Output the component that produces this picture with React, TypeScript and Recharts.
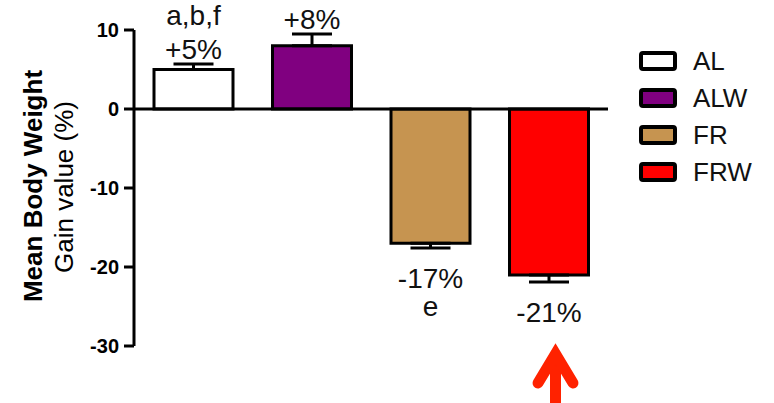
import React from 'react';
import { BarChart, Bar, Cell, XAxis, YAxis, ReferenceLine, ErrorBar, LabelList } from 'recharts';

const groups = ['AL', 'ALW', 'FR', 'FRW'];
const gain = [5, 8, -17, -21];
const sem = [0.7, 1.5, 0.6, 0.9];
const letters = ['a,b,f', '', 'e', ''];
const fills = ['#ffffff', '#800080', '#c69450', '#ff0000'];
const yTicks = [-30, -20, -10, 0, 10];

const font = '"Liberation Sans", Arial, sans-serif';

// error bars only point away from zero
const data = groups.map((g, i) => ({
  group: g,
  gain: gain[i],
  err: gain[i] >= 0 ? [0, sem[i]] : [sem[i], 0],
}));

const pctText = (v: number) => (v > 0 ? '+' : '') + v + '%';

const renderNote = (props: any) => {
  const vb = props.viewBox || {};
  const x = props.x ?? vb.x;
  const y = props.y ?? vb.y;
  const width = props.width ?? vb.width;
  const height = props.height ?? vb.height;
  const i = props.index;
  const v = gain[i];
  const top = Math.min(y, y + height);
  const bottom = Math.max(y, y + height);
  const ppu = Math.abs(height) / Math.abs(v);
  const cx = x + width / 2;
  const style = { fontFamily: font, fontSize: 28, fill: '#111' };
  if (v >= 0) {
    const base = top - sem[i] * ppu - 5;
    return (
      <g>
        {letters[i] && (
          <text x={cx} y={base - 34} textAnchor="middle" style={style}>
            {letters[i]}
          </text>
        )}
        <text x={cx} y={base} textAnchor="middle" style={style}>
          {pctText(v)}
        </text>
      </g>
    );
  }
  const base = bottom + sem[i] * ppu + 40;
  return (
    <g>
      <text x={cx} y={base} textAnchor="middle" style={style}>
        {pctText(v)}
      </text>
      {letters[i] && (
        <text x={cx} y={base + 28} textAnchor="middle" style={style}>
          {letters[i]}
        </text>
      )}
    </g>
  );
};

const yTitle = () => (
  <g style={{ fontFamily: font, fontSize: 26 }}>
    <text transform="translate(42,186) rotate(-90)" textAnchor="middle" fontWeight={700} fill="#000">
      Mean Body Weight
    </text>
    <text transform="translate(73,187) rotate(-90)" textAnchor="middle" fill="#000">
      Gain value (%)
    </text>
  </g>
);

export default function App() {
  return (
    <div style={{ position: 'absolute', left: 0, top: 0, width: 774, height: 403, background: '#fff' }}>
      <BarChart
        width={774}
        height={403}
        data={data}
        margin={{ top: 30, right: 166, bottom: 57, left: 0 }}
      >
        <XAxis dataKey="group" hide />
        <YAxis
          width={134}
          domain={[-30, 10]}
          ticks={yTicks}
          interval={0}
          tickSize={10}
          tickMargin={5}
          axisLine={{ stroke: '#000', strokeWidth: 3 }}
          tickLine={{ stroke: '#000', strokeWidth: 3 }}
          tick={{ fill: '#000', fontSize: 20, fontWeight: 700, fontFamily: font }}
          label={{ content: yTitle }}
        />
        <ReferenceLine y={0} stroke="#000" strokeWidth={3} />
        <Bar dataKey="gain" barSize={79} stroke="#000" strokeWidth={3} isAnimationActive={false}>
          {data.map((d, i) => (
            <Cell key={d.group} fill={fills[i]} />
          ))}
          <ErrorBar dataKey="err" direction="y" width={20} stroke="#000" strokeWidth={3} isAnimationActive={false} />
          <LabelList dataKey="gain" content={renderNote} />
        </Bar>
      </BarChart>

      {/* legend */}
      <div style={{ position: 'absolute', left: 639, top: 42, fontFamily: font, fontSize: 26, color: '#111' }}>
        {groups.map((g, i) => (
          <div key={g} style={{ display: 'flex', alignItems: 'center', height: 37 }}>
            <div
              style={{
                width: 30,
                height: 12,
                border: '4px solid #000',
                borderRadius: 4,
                background: fills[i],
              }}
            />
            <span style={{ marginLeft: 16, lineHeight: '20px' }}>{g}</span>
          </div>
        ))}
      </div>

      {/* arrow under FRW */}
      <svg width={774} height={403} style={{ position: 'absolute', left: 0, top: 0, pointerEvents: 'none' }}>
        <line x1={555.5} y1={362} x2={555.5} y2={410} stroke="#ff2200" strokeWidth={11} />
        <polyline
          points="538,383 555.5,354 573,383"
          fill="none"
          stroke="#ff2200"
          strokeWidth={11}
          strokeLinecap="round"
          strokeLinejoin="miter"
        />
      </svg>
    </div>
  );
}
